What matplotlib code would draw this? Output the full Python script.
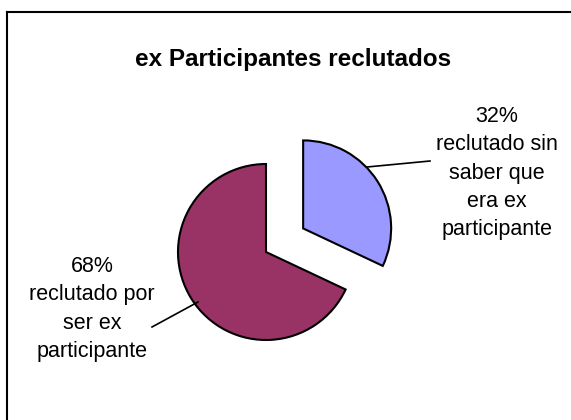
import matplotlib
matplotlib.use("Agg")
import matplotlib.pyplot as plt
from matplotlib.lines import Line2D

# Data
categories = ["reclutado sin\nsaber que\nera ex\nparticipante", "reclutado por\nser ex\nparticipante"]
values = [32, 68]
colors = ["#9999FF", "#993366"]
title = "ex Participantes reclutados"

W, H = 571, 420
fig = plt.figure(figsize=(W / 100, H / 100), dpi=100)
ax = fig.add_axes([0, 0, 1, 1])

plt.rcParams["font.family"] = ["Liberation Sans", "DejaVu Sans"]

ax.pie(values, colors=colors, startangle=90, counterclock=False,
       radius=88, center=(266, H - 252), explode=[44, 0],
       wedgeprops=dict(edgecolor="black", linewidth=1.5), frame=True)
ax.set_xlim(0, W)
ax.set_ylim(0, H)
ax.set_aspect("equal")
ax.axis("off")

total = sum(values)
pct = [f"{round(v * 100 / total)}%" for v in values]

# labels
ax.text(497, H - 173, pct[0] + "\n" + categories[0], ha="center", va="center",
        fontsize=15.5, linespacing=1.45, family="Liberation Sans")
ax.plot([367, 430], [H - 167, H - 161], color="black", lw=1.2)
ax.text(92, H - 309, pct[1] + "\n" + categories[1], ha="center", va="center",
        fontsize=15.5, linespacing=1.45, family="Liberation Sans")
ax.plot([152, 198], [H - 327, H - 302], color="black", lw=1.2)

ax.text(293, H - 66, title, ha="center", va="baseline", fontsize=17.5,
        fontweight="bold", family="Liberation Sans")

# frame (top and left visible)
fig.add_artist(Line2D([7 / W, 1.0], [1 - 12 / H, 1 - 12 / H], color="black", lw=1.5, transform=fig.transFigure))
fig.add_artist(Line2D([7 / W, 7 / W], [0, 1 - 12 / H], color="black", lw=1.5, transform=fig.transFigure))

fig.savefig("out.png", dpi=100)
